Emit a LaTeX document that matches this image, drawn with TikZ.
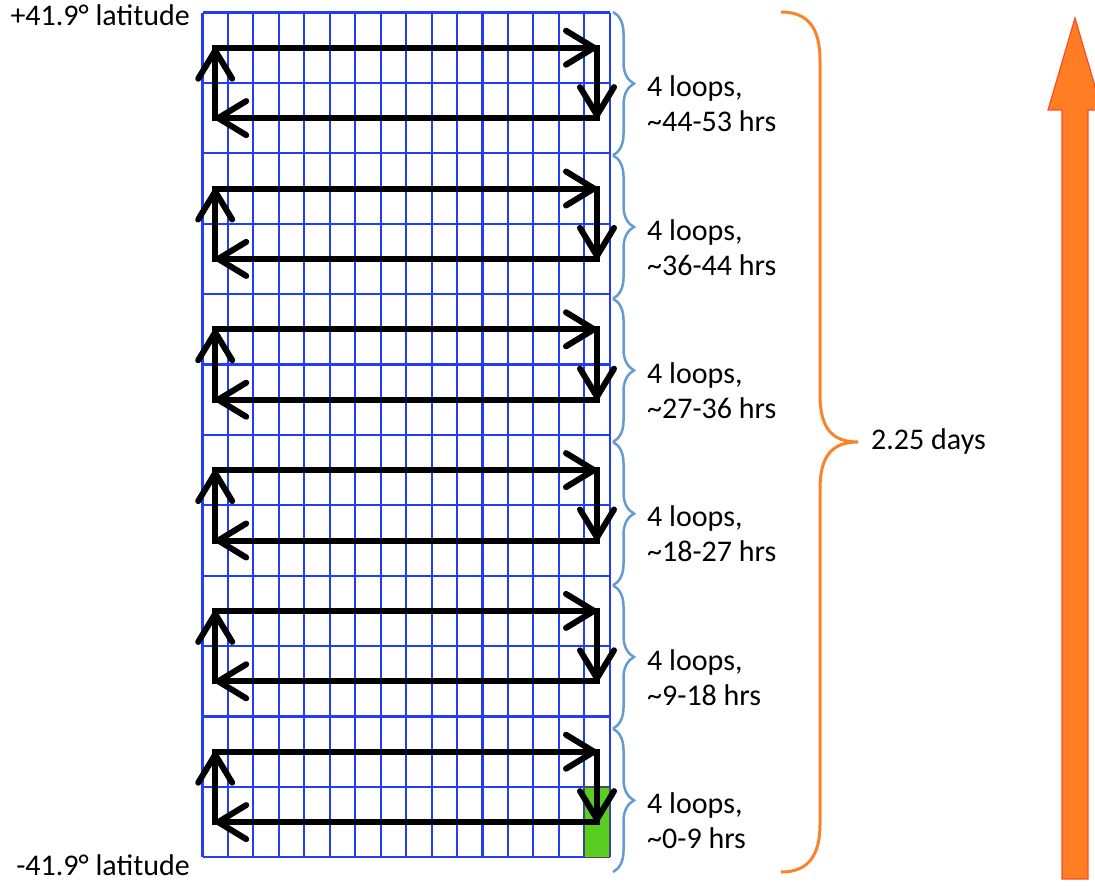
\documentclass[tikz,border=0pt]{standalone}
\usepackage{fontspec}
\setmainfont{Carlito}
\usetikzlibrary{
    arrows.meta,
    decorations.pathreplacing,
    calc
  }
\definecolor{gridblue}{RGB}{35,60,250}
\definecolor{braceblue}{RGB}{100,155,210}
\definecolor{braceorange}{RGB}{250,130,40}
\definecolor{arroworange}{RGB}{255,125,35}
\definecolor{arrowedge}{RGB}{245,80,45}
\definecolor{cellgreen}{RGB}{90,205,35}
\tikzstyle{gridline}=[gridblue,line width=2.1pt]
\tikzstyle{looparrow}=[line width=6pt,line cap=rect,-{Straight Barb[length=28pt,width=34pt,round]}]
\tikzstyle{bluebrace}=[braceblue,line width=2.5pt,decorate,decoration={brace,amplitude=21pt}]
\tikzstyle{orangebrace}=[braceorange,line width=3pt]

\begin{document}
\begin{tikzpicture}[x=1pt,y=-1pt,font=\fontsize{30}{35}\selectfont]
\useasboundingbox (0,0) rectangle (1095,886);
% grid of 16 x 12 cells
\foreach \i in {0,...,16}
  \draw[gridline] ({202.5+25.45*\i},12.5) -- ({202.5+25.45*\i},857.3);
\foreach \j in {0,...,12}
  \draw[gridline] (202.5,{12.5+70.4*\j}) -- (609.7,{12.5+70.4*\j});
\draw[fill=cellgreen,draw=black!70,line width=1.5pt] (584.25,786.9) rectangle (609.7,857.3);
% loops, one per band of two rows
\foreach \k in {0,...,5} {
  \pgfmathsetmacro\yb{12.5+140.8*\k}
  \coordinate (tl\k) at (215.2,\yb+35.2);
  \coordinate (tr\k) at (597,\yb+35.2);
  \coordinate (br\k) at (597,\yb+105.6);
  \coordinate (bl\k) at (215.2,\yb+105.6);
  \draw[looparrow] (tl\k) -- (tr\k);
  \draw[looparrow] (tr\k) -- (br\k);
  \draw[looparrow] (br\k) -- (bl\k);
  \draw[looparrow] (bl\k) -- (tl\k);
}
% braces and labels
\foreach \k/\hrs in {0/44-53,1/36-44,2/27-36,3/18-27,4/9-18,5/0-9} {
  \draw[bluebrace] (613,{12+143.33*\k}) -- (613,{12+143.33*(\k+1)});
  \node[anchor=base west,align=left,inner sep=0pt] (loops\k) at (647,{12+143.33*\k+71.7+48})
    {4 loops,\\\textasciitilde\hrs{} hrs};
}
\node[anchor=base east,inner sep=0pt] (north) at (190,25) {+41.9° latitude};
\node[anchor=base east,inner sep=0pt] (south) at (190,875) {-41.9° latitude};
\draw[orangebrace] (781,12) .. controls (808,12) and (820,28) .. (820,60) -- (820,395)
  .. controls (820,428) and (832,442) .. (858,442)
  .. controls (832,442) and (820,456) .. (820,489) -- (820,824)
  .. controls (820,856) and (808,872) .. (781,872);
\node[anchor=base west,inner sep=0pt] (days) at (871,449) {2.25 days};
% direction arrow
\filldraw[fill=arroworange,draw=arrowedge,line width=1.2pt]
  (1062,879) -- (1062,110) -- (1048,110) -- (1075,18) -- (1102,110)
  -- (1088,110) -- (1088,879) -- cycle;
\end{tikzpicture}
\end{document}
